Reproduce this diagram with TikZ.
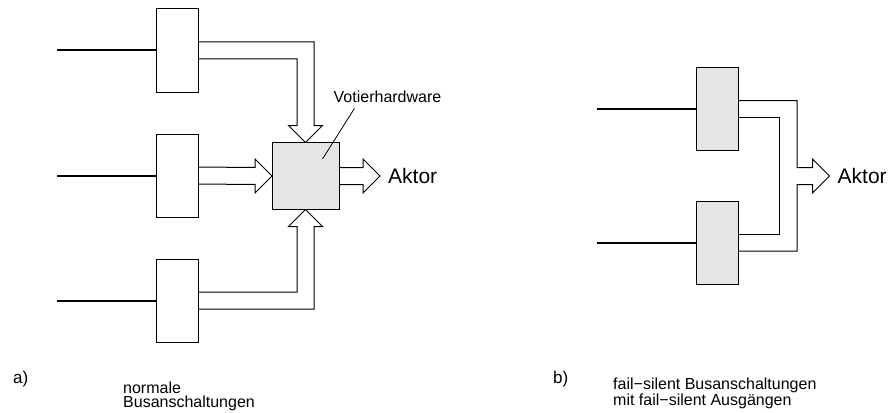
\documentclass[tikz,border=0pt]{standalone}
\usepackage{fontspec}
\setmainfont{Liberation Sans}
\usetikzlibrary{calc}

\begin{document}
\begin{tikzpicture}[x=1pt, y=-1pt,
	busbox/.style={draw, line width=1pt, minimum width=42pt, minimum height=83pt, inner sep=0pt, outer sep=0pt},
	fsbox/.style={busbox, fill=gray!20},
	voterbox/.style={draw, line width=1pt, fill=gray!20, minimum size=67pt, inner sep=0pt, outer sep=0pt},
	fat/.style={line width=1pt, line join=miter},
	bus/.style={line width=2pt},
	bigtext/.style={inner sep=0pt, font=\fontsize{21}{24}\selectfont},
	tagtext/.style={inner sep=0pt, font=\fontsize{17}{20}\selectfont},
	smalltext/.style={inner sep=0pt, align=left, font=\fontsize{16}{14}\selectfont}]
	\useasboundingbox (0, 0) rectangle (888, 412);
	% Boxes:
	\node[busbox] (bus1) at (177, 50.5) {};
	\node[busbox] (bus2) at (177, 175.5) {};
	\node[busbox] (bus3) at (177, 300.5) {};
	\node[voterbox] (voter) at (305.5, 176) {};
	\node[fsbox] (fs1) at (717, 109) {};
	\node[fsbox] (fs2) at (717, 242.5) {};
	\coordinate (tipa) at (380, 176);
	\coordinate (tipb) at (829.5, 176);
	% Bus lines:
	\coordinate (in1) at (57, 50.5);
	\coordinate (in2) at (57, 175.5);
	\coordinate (in3) at (57, 300.5);
	\coordinate (in4) at (597, 109);
	\coordinate (in5) at (597, 242.5);
	\draw[bus] (in1) -- (bus1.west);
	\draw[bus] (in2) -- (bus2.west);
	\draw[bus] (in3) -- (bus3.west);
	\draw[bus] (in4) -- (fs1.west);
	\draw[bus] (in5) -- (fs2.west);
	% Fat arrows, a):
	\draw[fat] ($(bus1.east)+(0,-8.5)$) -| ($(voter.north)+(8.5,-17)$) -- ++(8.5,0) -- (voter.north) -- ++(-17,-17) -- ++(8.5,0) |- ($(bus1.east)+(0,8.5)$);
	\draw[fat] ($(bus2.east)+(0,-8.5)$) -- ($(voter.west)+(-17,-8.5)$) -- ++(0,-8.5) -- (voter.west) -- ++(-17,17) -- ++(0,-8.5) -- ($(bus2.east)+(0,8.5)$);
	\draw[fat] ($(bus3.east)+(0,-8.5)$) -| ($(voter.south)+(-8.5,17)$) -- ++(-8.5,0) -- (voter.south) -- ++(17,17) -- ++(-8.5,0) |- ($(bus3.east)+(0,8.5)$);
	\draw[fat] ($(voter.east)+(0,-8.5)$) -- ($(tipa)+(-17,-8.5)$) -- ++(0,-8.5) -- (tipa) -- ++(-17,17) -- ++(0,-8.5) -- ($(voter.east)+(0,8.5)$);
	% Fat arrow, b):
	\draw[fat] ($(fs1.east)+(0,-8.5)$) -| ($(tipb)+(-32.5,-8.5)$) -- ($(tipb)+(-17,-8.5)$) -- ++(0,-8.5) -- (tipb) -- ++(-17,17) -- ++(0,-8.5) -- ($(tipb)+(-32.5,8.5)$) |- ($(fs2.east)+(0,8.5)$);
	\draw[fat] ($(fs1.east)+(0,8.5)$) -| ($(tipb)+(-50,0)$) |- ($(fs2.east)+(0,-8.5)$);
	% Labels:
	\node[bigtext, anchor=west, xshift=8pt] (aktora) at (tipa) {Aktor};
	\node[bigtext, anchor=west, xshift=8pt] (aktorb) at (tipb) {Aktor};
	\node[smalltext, anchor=base] (vlabel) at (387.5, 102) {Votierhardware};
	\draw[line width=0.8pt] ($(vlabel.south west)+(21,6)$) -- ($(voter.center)+(17,-17)$);
	\node[tagtext, anchor=base west] (taga) at (13, 383) {a)};
	\node[tagtext, anchor=base west] (tagb) at (553, 383) {b)};
	\node[smalltext, anchor=base west] (capa) at (123, 407) {normale\\Busanschaltungen};
	\node[smalltext, anchor=base west] (capb) at (613, 405.5) {fail−silent Busanschaltungen\\mit fail−silent Ausgängen};
\end{tikzpicture}
\end{document}
